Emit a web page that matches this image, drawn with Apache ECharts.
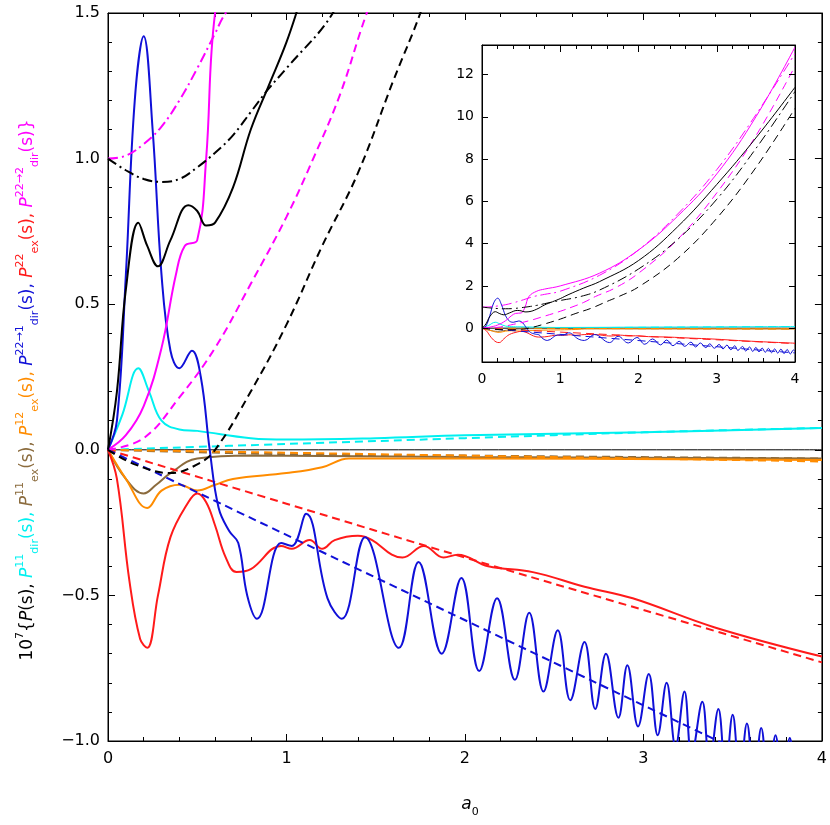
<!DOCTYPE html>
<html><head><meta charset="utf-8">
<script src="https://cdn.jsdelivr.net/npm/echarts@6/dist/echarts.min.js"></script>
<style>html,body{margin:0;padding:0;background:#fff}#c{width:830px;height:825px}</style>
</head><body><div id="c"></div>
<script>
const xTicks=[0,1,2,3,4];
const yTicksMain=[-1.0,-0.5,0.0,0.5,1.0,1.5];
const yTicksInset=[0,2,4,6,8,10,12];
const zeroLine=[[0,0],[4,0]];
const blackSolid=[[0,0],[0.05,0.2],[0.1,0.55],[0.17,0.78],[0.22,0.7],[0.28,0.63],[0.35,0.72],[0.45,0.84],[0.5,0.82],[0.55,0.77],[0.6,0.78],[0.7,0.9],[0.8,1.1],[0.9,1.25],[1.0,1.4],[1.1,1.58],[1.3,1.9],[1.5,2.2],[2,3.2],[2.5,4.8],[3,6.8],[3.5,9.0],[4,11.4]];
const blackDashDot=[[0,1.0],[0.1,0.96],[0.2,0.93],[0.3,0.92],[0.4,0.93],[0.5,0.97],[0.6,1.02],[0.7,1.08],[0.8,1.16],[0.9,1.24],[1.0,1.31],[1.26,1.5],[1.5,1.8],[2,2.8],[2.5,4.2],[3,6.1],[3.5,8.5],[4,11.2]];
const blackDashed=[[0,0],[0.15,-0.05],[0.35,-0.08],[0.5,-0.05],[0.6,0.0],[0.8,0.2],[1.0,0.43],[1.2,0.7],[1.4,0.95],[1.6,1.27],[1.75,1.5],[2,1.95],[2.5,3.3],[3,5.2],[3.5,7.6],[4,10.4]];
const magentaSolid=[[0,0],[0.1,0.05],[0.2,0.15],[0.3,0.35],[0.38,0.6],[0.43,0.7],[0.5,0.72],[0.55,1.0],[0.6,1.5],[0.7,1.75],[0.8,1.85],[1,2.0],[1.5,2.6],[2,3.7],[2.5,5.3],[3,7.3],[3.5,10],[4,13.3]];
const magentaDashDot=[[0,1],[0.1,1.01],[0.2,1.05],[0.3,1.11],[0.4,1.2],[0.5,1.31],[0.6,1.43],[0.66,1.5],[0.8,1.6],[1,1.75],[1.5,2.5],[2,3.7],[2.5,5.4],[3,7.5],[3.5,10.1],[4,13.0]];
const magentaDashed=[[0,0],[0.2,0.04],[0.4,0.18],[0.6,0.35],[0.8,0.57],[1.0,0.8],[1.15,1.0],[1.3,1.22],[1.45,1.5],[1.7,1.9],[2,2.6],[2.5,4.2],[3,6.4],[3.5,9.1],[4,12.4]];
const blueSolid=[[0,0],[0.05,0.1],[0.1,0.6],[0.15,1.2],[0.2,1.42],[0.25,1.1],[0.3,0.6],[0.35,0.34],[0.4,0.28],[0.47,0.34],[0.52,0.25],[0.57,0.0],[0.62,-0.2],[0.68,-0.28],[0.73,-0.32],[0.78,-0.5],[0.835,-0.58],[0.97,-0.32],[1.03,-0.33],
[1.11,-0.22],[1.23,-0.51],[1.31,-0.58],[1.44,-0.30],[1.63,-0.68],[1.74,-0.385],[1.87,-0.70],[1.98,-0.44],[2.08,-0.76],[2.18,-0.51],[2.28,-0.79],[2.36,-0.56],[2.44,-0.83],[2.52,-0.62],[2.59,-0.86],[2.67,-0.66],[2.73,-0.89],[2.79,-0.70],[2.86,-0.92],[2.91,-0.74],[2.97,-0.95],[3.03,-0.77],[3.08,-0.98],[3.13,-0.80],[3.18,-1.02],[3.23,-0.83],[3.27,-1.05],[3.33,-0.865],[3.37,-1.08],[3.42,-0.89],[3.46,-1.10],[3.50,-0.91],[3.54,-1.12],[3.58,-0.94],[3.62,-1.14],[3.66,-0.955],[3.70,-1.16],[3.74,-0.98],[3.78,-1.18],[3.82,-0.99],[3.86,-1.20],[3.90,-1.01],[3.94,-1.22],[3.98,-1.03],[4.0,-1.1]];
const blueDashed=[[0,0],[4,-1.17]];
const redSolid=[[0,0],[0.05,-0.1],[0.12,-0.45],[0.18,-0.65],[0.22,-0.68],[0.28,-0.5],[0.35,-0.3],[0.45,-0.18],[0.5,-0.15],[0.55,-0.18],[0.6,-0.26],[0.66,-0.37],[0.72,-0.42],[0.8,-0.41],[0.97,-0.33],[1.03,-0.34],[1.13,-0.31],[1.2,-0.34],[1.27,-0.31],[1.4,-0.295],[1.48,-0.31],[1.59,-0.36],[1.65,-0.37],[1.77,-0.33],[1.88,-0.37],[1.96,-0.36],[2.13,-0.40],[2.38,-0.42],[2.67,-0.47],[2.94,-0.51],[3.4,-0.61],[4.0,-0.71]];
const redDashed=[[0,0],[1,-0.185],[2,-0.37],[3,-0.55],[4,-0.73]];
const cyanSolid=[[0,0],[0.08,0.12],[0.17,0.28],[0.23,0.2],[0.3,0.1],[0.4,0.07],[0.5,0.065],[0.8,0.04],[1.0,0.035],[1.5,0.04],[2,0.05],[3,0.06],[4,0.075]];
const cyanDashed=[[0,0],[1,0.02],[2,0.04],[3,0.06],[4,0.075]];
const brownSolid=[[0,0],[0.1,-0.1],[0.2,-0.15],[0.27,-0.12],[0.35,-0.08],[0.5,-0.03],[0.8,-0.02],[2,-0.025],[4,-0.03]];
const brownDashed=[[0,0],[1,-0.015],[2,-0.02],[4,-0.03]];
const orangeSolid=[[0,0],[0.1,-0.1],[0.22,-0.2],[0.3,-0.14],[0.4,-0.12],[0.5,-0.14],[0.6,-0.12],[0.7,-0.1],[1.0,-0.08],[1.2,-0.06],[1.35,-0.03],[2,-0.03],[4,-0.035]];
const orangeDashed=[[0,0],[1,-0.01],[2,-0.02],[3,-0.03],[4,-0.04]];

const C={k:'#000000',m:'#ff00ff',b:'#1010d8',r:'#ff1a1a',c:'#00f0f0',br:'#8b6b3d',o:'#ff8c00'};
const DASH=[8,5],DD=[10,4,2,4];
const defs=[
 [zeroLine,C.k,'solid',1],
 [cyanDashed,C.c,DASH],[cyanSolid,C.c,'solid'],
 [brownDashed,C.br,DASH],[brownSolid,C.br,'solid'],
 [orangeDashed,C.o,DASH],[orangeSolid,C.o,'solid'],
 [redDashed,C.r,DASH],[redSolid,C.r,'solid'],
 [blueDashed,C.b,DASH],[blueSolid,C.b,'solid'],
 [magentaDashed,C.m,DASH],[magentaDashDot,C.m,DD],[magentaSolid,C.m,'solid'],
 [blackDashed,C.k,DASH],[blackDashDot,C.k,DD],[blackSolid,C.k,'solid']
];
const series=[];
defs.forEach(d=>{
 [0,1].forEach(g=>{
  series.push({type:'line',xAxisIndex:g===0?0:2,yAxisIndex:g===0?0:2,data:d[0],smooth:0.4,showSymbol:false,symbol:'none',clip:true,
   lineStyle:{color:d[1],type:d[2],width:g===0?(d[3]||2):1},z:g===0?2:5,silent:true});
 });
});
const axisFont={fontFamily:'DejaVu Sans',fontSize:16,color:'#000'};
function xa(grid,pos,show,fs){return {type:'value',gridIndex:grid,position:pos,min:0,max:4,interval:1,
 axisLine:{show:true,onZero:false,lineStyle:{color:'#000'}},axisTick:{inside:true,length:7,lineStyle:{color:'#000'}},
 minorTick:{show:true,splitNumber:5,length:4,lineStyle:{color:'#000'}},splitLine:{show:false},
 axisLabel:{show:show,...axisFont,fontSize:fs,margin:10}};}
const option={animation:false,
 grid:[{left:108,right:8,top:13,bottom:84,show:true,borderColor:'#000',borderWidth:1},
       {left:482,right:35,top:45,bottom:463,show:true,borderColor:'#000',borderWidth:1,backgroundColor:'#fff',z:4}],
 xAxis:[xa(0,'bottom',true,16),xa(0,'top',false,16),{...xa(1,'bottom',true,14),z:6},{...xa(1,'top',false,14),z:6}],
 yAxis:[
  {type:'value',gridIndex:0,min:-1,max:1.5,interval:0.5,axisLine:{show:true,onZero:false,lineStyle:{color:'#000'}},
   axisTick:{inside:true,length:7},minorTick:{show:true,splitNumber:5,length:4,lineStyle:{color:'#000'}},splitLine:{show:false},
   axisLabel:{...axisFont,formatter:v=>(v<0?'\u2212':'')+Math.abs(v).toFixed(1)}},
  {type:'value',gridIndex:0,position:'right',min:-1,max:1.5,interval:0.5,axisLine:{show:true,onZero:false,lineStyle:{color:'#000'}},
   axisTick:{inside:true,length:7},minorTick:{show:true,splitNumber:5,length:4,lineStyle:{color:'#000'}},splitLine:{show:false},axisLabel:{show:false}},
  {type:'value',gridIndex:1,min:-1.6,max:13.4,z:6,axisLine:{show:true,onZero:false,lineStyle:{color:'#000'}},
   axisTick:{inside:true,length:6,customValues:yTicksInset},splitLine:{show:false},
   axisLabel:{...axisFont,fontSize:14,customValues:yTicksInset}},
  {type:'value',gridIndex:1,position:'right',min:-1.6,max:13.4,z:6,axisLine:{show:true,onZero:false,lineStyle:{color:'#000'}},
   axisTick:{inside:true,length:6,customValues:yTicksInset},splitLine:{show:false},axisLabel:{show:false}}
 ],
 series:series,
 graphic:[]
};
const rich={};
const fam='DejaVu Sans';
Object.keys(C).forEach(k=>{
 rich['t'+k]={fontFamily:fam,fontSize:17,fill:C[k],verticalAlign:'middle',lineHeight:26};
 rich['sp'+k]={fontFamily:fam,fontSize:11,fill:C[k],verticalAlign:'top',lineHeight:26};
 rich['sb'+k]={fontFamily:fam,fontSize:11,fill:C[k],verticalAlign:'bottom',lineHeight:26};
 rich['i'+k]={fontFamily:fam,fontSize:17,fontStyle:'italic',fill:C[k],verticalAlign:'middle',lineHeight:26};
});
function P(col,sup,sub,tail){return `{i${col}|P}{sp${col}|${sup}}{sb${col}|${sub}}{t${col}|(s)${tail}}`;}
const ytxt='{tk|10}{spk|7}{tk|{}{ik|P}{tk|(s), }'+P('c','11','dir',', ')+P('br','11','ex',', ')+P('o','12','ex',', ')+P('b','22\u21921','dir',', ')+P('r','22','ex',', ')+P('m','22\u21922','dir','')+'}';
option.graphic.push({type:'text',x:28,y:390,rotation:Math.PI/2,style:{text:ytxt,rich:rich,fill:C.m,font:'17px "DejaVu Sans"',align:'center',verticalAlign:'middle'}});
option.graphic.push({type:'text',x:470,y:805,style:{text:'{ik|a}{sbk|0}',rich:rich,align:'center',verticalAlign:'middle'}});
echarts.init(document.getElementById('c')).setOption(option);
</script></body></html>
